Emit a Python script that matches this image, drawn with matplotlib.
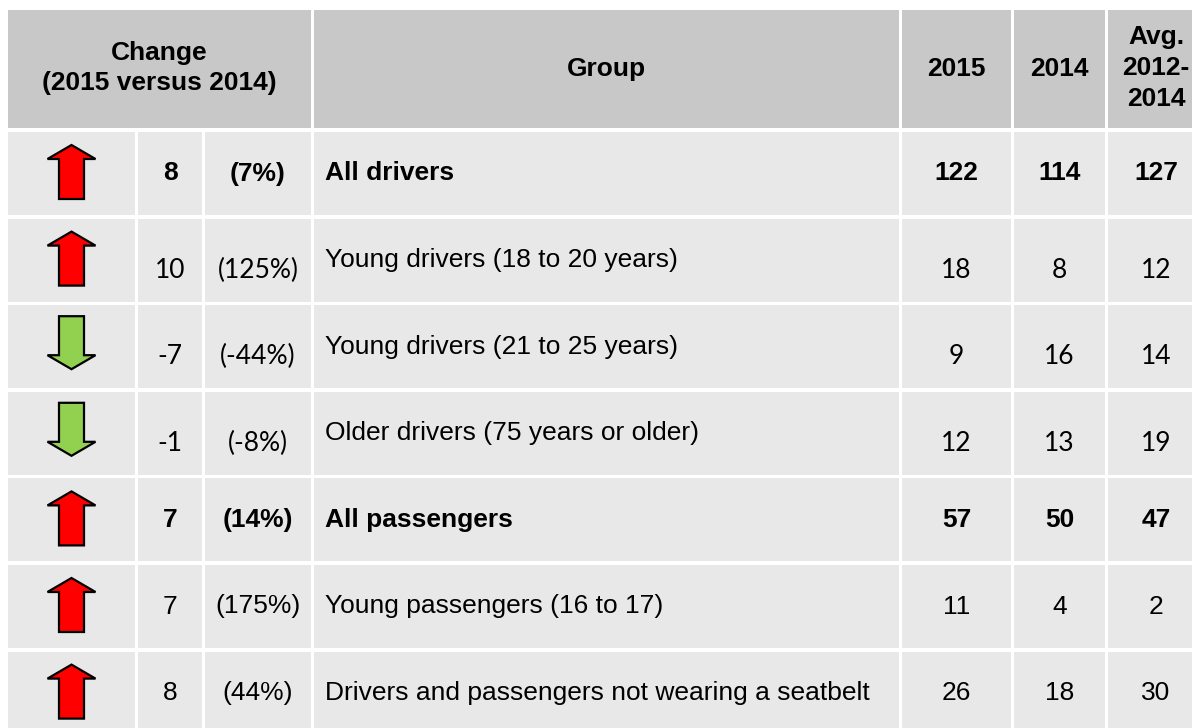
import matplotlib.pyplot as plt
from matplotlib.patches import Rectangle, Polygon

# table data
groups = ["All drivers", "Young drivers (18 to 20 years)", "Young drivers (21 to 25 years)",
          "Older drivers (75 years or older)", "All passengers", "Young passengers (16 to 17)",
          "Drivers and passengers not wearing a seatbelt"]
change_abs = [8, 10, -7, -1, 7, 7, 8]
change_pct = [7, 125, -44, -8, 14, 175, 44]
v2015 = [122, 18, 9, 12, 57, 11, 26]
v2014 = [114, 8, 16, 13, 50, 4, 18]
avg_1214 = [127, 12, 14, 19, 47, 2, 30]
bold_rows = [True, False, False, False, True, False, False]
alt_font_rows = [False, True, True, True, False, False, False]

header_change = "Change\n(2015 versus 2014)"
header_group = "Group"
header_years = ["2015", "2014", "Avg.\n2012-\n2014"]

# layout (pixels)
W, H = 1192, 728
col_l = [8, 138, 205, 314, 902, 1014, 1108]
col_r = [135, 202, 311, 899, 1011, 1105, 1204]
head_top, head_bot = 10, 128
row_top0, row_pitch, row_h = 132, 86.6, 83

HEAD_BG = "#c8c8c8"
BODY_BG = "#e8e8e8"
ARIAL = "Liberation Sans"
CALIBRI = "Lato"
FS = 19

fig = plt.figure(figsize=(W / 100, H / 100), dpi=100)
ax = fig.add_axes([0, 0, 1, 1])
ax.set_xlim(0, W)
ax.set_ylim(H, 0)
ax.axis("off")

# header
def cell(x0, x1, y0, y1, color):
    ax.add_patch(Rectangle((x0, y0), x1 - x0, y1 - y0, facecolor=color, edgecolor="none"))

cell(col_l[0], col_r[2], head_top, head_bot, HEAD_BG)
ax.text((col_l[0] + col_r[2]) / 2, (head_top + head_bot) / 2 - 1, header_change, ha="center",
        va="center", fontsize=FS, fontweight="bold", family=ARIAL, linespacing=1.35)
cell(col_l[3], col_r[3], head_top, head_bot, HEAD_BG)
ax.text((col_l[3] + col_r[3]) / 2, (head_top + head_bot) / 2, header_group, ha="center",
        va="center", fontsize=FS, fontweight="bold", family=ARIAL)
for j, lab in enumerate(header_years):
    c = 4 + j
    cell(col_l[c], col_r[c], head_top, head_bot, HEAD_BG)
    dy = -1 if "\n" in lab else 0
    ax.text((col_l[c] + col_r[c]) / 2 if c < 6 else 1156, (head_top + head_bot) / 2 + dy, lab,
            ha="center", va="center", fontsize=FS, fontweight="bold", family=ARIAL,
            linespacing=1.35)


def arrow(cx, top, up, color):
    hw, sw, hh = 24, 12.5, 14
    if up:
        t, b = top + 13, top + 67
        pts = [(cx, t), (cx + hw, t + hh), (cx + sw, t + hh), (cx + sw, b),
               (cx - sw, b), (cx - sw, t + hh), (cx - hw, t + hh)]
    else:
        t, b = top + 11, top + 64
        pts = [(cx - sw, t), (cx + sw, t), (cx + sw, b - hh), (cx + hw, b - hh),
               (cx, b), (cx - hw, b - hh), (cx - sw, b - hh)]
    ax.add_patch(Polygon(pts, closed=True, facecolor=color, edgecolor="black", lw=1.6,
                         joinstyle="miter"))


for i in range(len(groups)):
    top = row_top0 + i * row_pitch
    bot = top + row_h
    yc = (top + bot) / 2
    for c in range(7):
        cell(col_l[c], col_r[c], top, bot, BODY_BG)
    up = change_abs[i] > 0
    arrow((col_l[0] + col_r[0]) / 2, top, up, "#ff0000" if up else "#92d050")

    wt = "bold" if bold_rows[i] else "normal"
    nfam = CALIBRI if alt_font_rows[i] else ARIAL
    ny = yc + 10 if alt_font_rows[i] else yc
    nums = [str(change_abs[i]), f"({change_pct[i]}%)", None,
            str(v2015[i]), str(v2014[i]), str(avg_1214[i])]
    for c, s in zip([1, 2, 3, 4, 5, 6], nums):
        if s is None:
            continue
        x = (col_l[c] + col_r[c]) / 2 if c < 6 else 1156
        ax.text(x, ny, s, ha="center", va="center", fontsize=FS, fontweight=wt, family=nfam)
    ax.text(col_l[3] + 11, yc, groups[i], ha="left", va="center", fontsize=FS,
            fontweight=wt, family=ARIAL)

fig.savefig("out.png", dpi=100, facecolor="white")
